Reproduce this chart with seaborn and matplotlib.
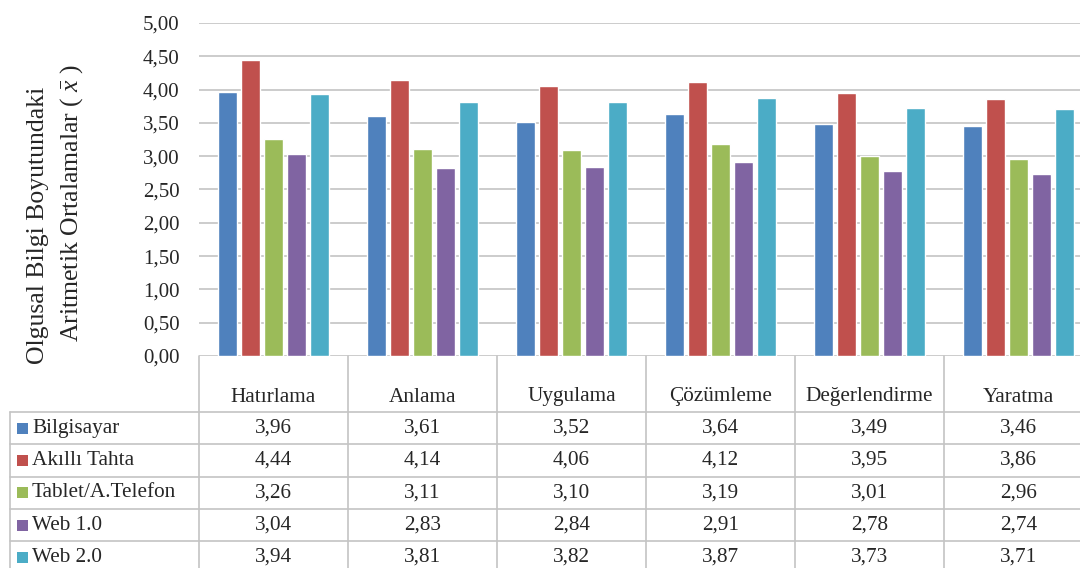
import matplotlib
matplotlib.use("Agg")
import matplotlib.pyplot as plt
from matplotlib.patches import Rectangle
from matplotlib.transforms import blended_transform_factory
import seaborn as sns
import pandas as pd

# Bilişsel süreç basamakları ve teknoloji araçları
basamaklar = ["Hatırlama", "Anlama", "Uygulama", "Çözümleme", "Değerlendirme", "Yaratma"]
araclar = ["Bilgisayar", "Akıllı Tahta", "Tablet/A.Telefon", "Web 1.0", "Web 2.0"]

bilgisayar = [3.96, 3.61, 3.52, 3.64, 3.49, 3.46]
akilli_tahta = [4.44, 4.14, 4.06, 4.12, 3.95, 3.86]
tablet = [3.26, 3.11, 3.10, 3.19, 3.01, 2.96]
web1 = [3.04, 2.83, 2.84, 2.91, 2.78, 2.74]
web2 = [3.94, 3.81, 3.82, 3.87, 3.73, 3.71]

y_ticks = [0.0, 0.5, 1.0, 1.5, 2.0, 2.5, 3.0, 3.5, 4.0, 4.5, 5.0]

renkler = ["#4F81BD", "#C0504D", "#9BBB59", "#8064A2", "#4BACC6"]

seriler = [bilgisayar, akilli_tahta, tablet, web1, web2]
df = pd.DataFrame(
    [(b, a, v) for a, s in zip(araclar, seriler) for b, v in zip(basamaklar, s)],
    columns=["basamak", "arac", "ortalama"],
)

sns.set_style("white")
plt.rcParams["font.family"] = ["Liberation Serif", "DejaVu Serif"]
plt.rcParams["mathtext.fontset"] = "custom"
plt.rcParams["mathtext.rm"] = "Liberation Serif"
plt.rcParams["mathtext.it"] = "Liberation Serif:italic"

W, H = 1080, 568
fig = plt.figure(figsize=(W / 100, H / 100), dpi=100)
ax_left, ax_right, ax_top, ax_bottom = 199, 1093, 23, 356
ax = fig.add_axes([ax_left / W, 1 - ax_bottom / H,
                   (ax_right - ax_left) / W, (ax_bottom - ax_top) / H])

sns.barplot(data=df, x="basamak", y="ortalama", hue="arac",
            order=basamaklar, hue_order=araclar, palette=renkler,
            saturation=1, width=0.77, gap=0.2, edgecolor="white", linewidth=1.0,
            legend=False, ax=ax)

ax.set_xlim(-0.5, len(basamaklar) - 0.5)
ax.set_ylim(0, 5)
ax.set_yticks(y_ticks)
ax.set_yticklabels([f"{t:.2f}".replace(".", ",") for t in y_ticks], fontsize=15)
ax.set_xticks([])
ax.set_xlabel("")
ax.set_ylabel("")
ax.tick_params(axis="y", length=0, pad=14)
for sp in ax.spines.values():
    sp.set_visible(False)
ax.yaxis.grid(True, color="#CCCCCC", linewidth=1.4)
ax.set_axisbelow(True)

# Eksen başlığı (iki satır)
fig.text(38 / W, 1 - 225 / H, "Olgusal Bilgi Boyutundaki", rotation=90,
         ha="center", va="center", fontsize=18.5)
fig.text(72 / W, 1 - 203 / H, r"Aritmetik Ortalamalar ( $\bar{x}$ )", rotation=90,
         ha="center", va="center", fontsize=18.5)

# Veri tablosu
cizgi = dict(color="#C4C4C4", linewidth=1.2, clip_on=False)
tr = blended_transform_factory(ax.transData, fig.transFigure)
fy = lambda py: 1 - py / H
header_top, header_bottom, row_h = 356, 412, 32.3
tablo_sol = 10

# dikey çizgiler
for i in range(len(basamaklar) + 1):
    fig.add_artist(plt.Line2D([i - 0.5, i - 0.5], [fy(header_top), fy(H + 10)],
                              transform=tr, **cizgi))
fig.add_artist(plt.Line2D([tablo_sol / W, tablo_sol / W], [fy(header_bottom), fy(H + 10)],
                          transform=fig.transFigure, **cizgi))
# yatay çizgiler
for r in range(len(araclar) + 1):
    y = fy(header_bottom + r * row_h)
    fig.add_artist(plt.Line2D([tablo_sol / W, 1.02], [y, y],
                              transform=fig.transFigure, **cizgi))

# başlık satırı
for i, b in enumerate(basamaklar):
    fig.text(i, fy(397), b, transform=tr, ha="center", va="center", fontsize=15.3)

# değer satırları
for r, (a, s, c) in enumerate(zip(araclar, seriler, renkler)):
    yc = header_bottom + (r + 0.5) * row_h
    fig.add_artist(Rectangle((17 / W, fy(yc + 5.5)), 11 / W, 11 / H,
                             transform=fig.transFigure, facecolor=c, edgecolor="none"))
    fig.text(32 / W, fy(yc), a, ha="left", va="center", fontsize=15.3)
    for i, v in enumerate(s):
        fig.text(i, fy(yc), f"{v:.2f}".replace(".", ","), transform=tr,
                 ha="center", va="center", fontsize=15.3)

fig.savefig("out.png", dpi=100)
